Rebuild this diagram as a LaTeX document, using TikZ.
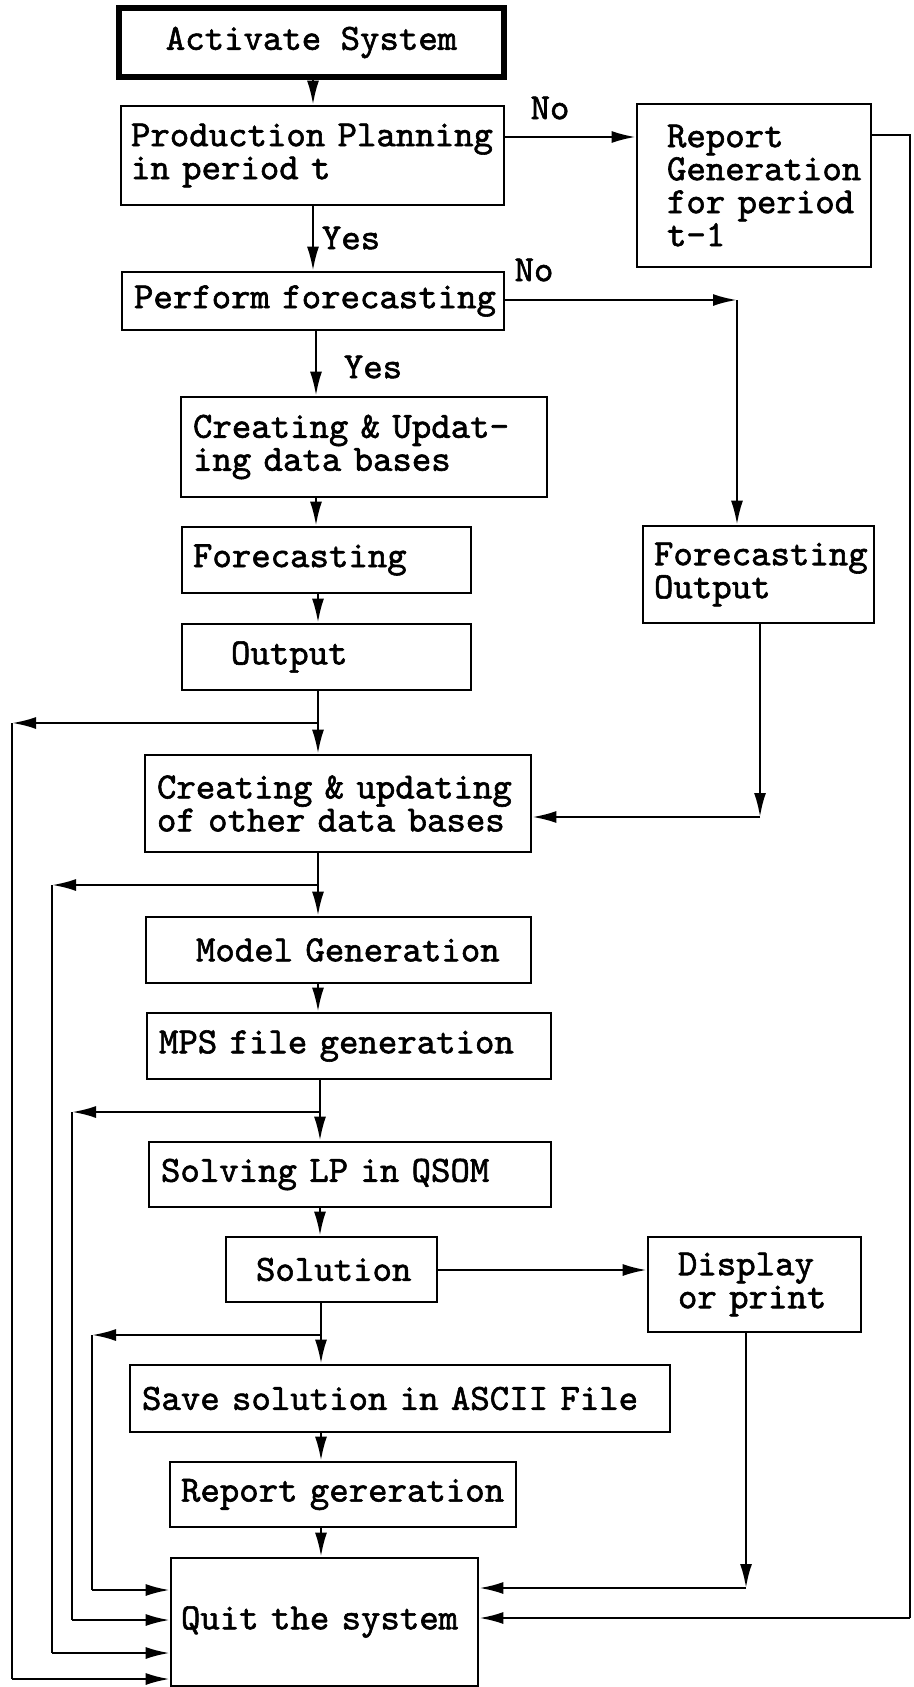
\documentclass[tikz,border=0pt]{standalone}
\usepackage{fontspec}
\usetikzlibrary{arrows.meta}
\newfontfamily\dmfont{lmmono10-regular.otf}[FakeBold=1.6]
\newcommand\fnt{\dmfont\fontsize{18.5}{16.5}\selectfont}
\begin{document}
\begin{tikzpicture}[x=0.5pt,y=-0.5pt,
  bx/.style={draw, line width=1.3pt, inner sep=0pt, align=left, font=\fnt},
  ln/.style={line width=1.2pt},
  arr/.style={line width=1.2pt, -{Latex[length=12pt,width=6pt]}},
  lbl/.style={font=\fnt, inner sep=0pt}]
\useasboundingbox (0,0) rectangle (914,1687);
% boxes
\node[bx, line width=2.6pt, minimum width=192.5pt, minimum height=34.5pt, align=center] (act) at (311.5,42.5) {Activate System};
\node[bx, minimum width=191.5pt, minimum height=49.5pt, text width=181.5pt] (pp) at (312.5,155.5) {\mbox{Production Planning}\\\mbox{in period t}};
\node[bx, minimum width=117pt, minimum height=81.5pt, text width=87pt] (rg) at (754,185.5) {\mbox{Report}\\\mbox{Generation}\\\mbox{for period}\\\mbox{t-1}};
\node[bx, minimum width=191pt, minimum height=29pt, text width=179pt] (pf) at (313,301) {\mbox{Perform forecasting}};
\node[bx, minimum width=183pt, minimum height=50pt, text width=171pt] (cu) at (364,447) {\mbox{Creating \& Updat-}\\\mbox{ing data bases}};
\node[bx, minimum width=144.5pt, minimum height=33pt, text width=133.5pt] (fc) at (326.5,560) {\mbox{Forecasting}};
\node[bx, minimum width=115.5pt, minimum height=48.5pt, text width=104.5pt] (fo) at (758.5,574.5) {\mbox{Forecasting}\\\mbox{Output}};
\node[bx, minimum width=144.5pt, minimum height=33pt, text width=95.5pt] (out) at (326.5,657) {\mbox{Output}};
\node[bx, minimum width=193pt, minimum height=48.5pt, text width=181pt] (co) at (338,803.5) {\mbox{Creating \& updating}\\\mbox{of other data bases}};
\node[bx, minimum width=192.5pt, minimum height=33pt, text width=142.5pt] (mg) at (338.5,950) {\mbox{Model Generation}};
\node[bx, minimum width=202pt, minimum height=33pt, text width=190pt] (mps) at (349,1046) {\mbox{MPS file generation}};
\node[bx, minimum width=201pt, minimum height=32.5pt, text width=189pt] (slv) at (350,1174.5) {\mbox{Solving LP in QSOM}};
\node[bx, minimum width=105.5pt, minimum height=32.5pt, text width=75.5pt] (sol) at (331.5,1269.5) {\mbox{Solution}};
\node[bx, minimum width=106.5pt, minimum height=47.5pt, text width=76.5pt] (dp) at (754.5,1284.5) {\mbox{Display}\\\mbox{or print}};
\node[bx, minimum width=270pt, minimum height=33.5pt, text width=258pt] (sv) at (400,1398.5) {\mbox{Save solution in ASCII File}};
\node[bx, minimum width=173pt, minimum height=32.5pt, text width=162pt] (rp) at (343,1494.5) {\mbox{Report gereration}};
\node[bx, minimum width=153.5pt, minimum height=64pt, text width=143.5pt] (qt) at (324.5,1622) {\mbox{Quit the system}};
% labels
\node[lbl] (no1) at (550,108) {No};
\node[lbl] (no2) at (534,270) {No};
\node[lbl] (yes1) at (351,238) {Yes};
\node[lbl] (yes2) at (373,367) {Yes};
% helper coordinates
\coordinate (T1) at (313,0);
\coordinate (T2) at (316,0);
\coordinate (T3) at (318,0);
\coordinate (T4) at (320,0);
\coordinate (T5) at (321,0);
\coordinate (J1) at (318,723);
\coordinate (J2) at (318,885);
\coordinate (J3) at (320,1112);
\coordinate (J4) at (321,1335);
\coordinate (A1) at (12,723);  \coordinate (B1) at (12,1679);
\coordinate (A2) at (52,885);  \coordinate (B2) at (52,1653);
\coordinate (A3) at (72,1112); \coordinate (B3) at (72,1620);
\coordinate (A4) at (92,1335); \coordinate (B4) at (92,1590);
\coordinate (P1) at (0,137);
\coordinate (RG1) at (910,135);
\coordinate (RG2) at (910,1618);
\coordinate (K1) at (737,300);
\coordinate (K2) at (760,817);
\coordinate (S1) at (0,1270);
\coordinate (K3) at (746,1588);
% main trunk
\draw[arr] (act.south -| T1) -- (pp.north -| T1);
\draw[arr] (pp.south -| T1) -- (pf.north -| T1);
\draw[arr] (pf.south -| T2) -- (cu.north -| T2);
\draw[arr] (cu.south -| T2) -- (fc.north -| T2);
\draw[arr] (fc.south -| T3) -- (out.north -| T3);
\draw[arr] (out.south -| T3) -- (co.north -| T3);
\draw[arr] (co.south -| T3) -- (mg.north -| T3);
\draw[arr] (mg.south -| T3) -- (mps.north -| T3);
\draw[arr] (mps.south -| T4) -- (slv.north -| T4);
\draw[arr] (slv.south -| T4) -- (sol.north -| T4);
\draw[arr] (sol.south -| T5) -- (sv.north -| T5);
\draw[arr] (sv.south -| T5) -- (rp.north -| T5);
\draw[arr] (rp.south -| T5) -- (qt.north -| T5);
% left return loops
\draw[arr] (J1) -- (A1);
\draw[ln] (A1) -- (B1);
\draw[arr] (B1) -- (B1 -| qt.west);
\draw[arr] (J2) -- (A2);
\draw[ln] (A2) -- (B2);
\draw[arr] (B2) -- (B2 -| qt.west);
\draw[arr] (J3) -- (A3);
\draw[ln] (A3) -- (B3);
\draw[arr] (B3) -- (B3 -| qt.west);
\draw[arr] (J4) -- (A4);
\draw[ln] (A4) -- (B4);
\draw[arr] (B4) -- (B4 -| qt.west);
% right side
\draw[arr] (pp.east |- P1) -- (rg.west |- P1);
\draw[ln] (rg.east |- RG1) -- (RG1) -- (RG2);
\draw[arr] (RG2) -- (RG2 -| qt.east);
\draw[arr] (pf.east |- K1) -- (K1);
\draw[arr] (K1) -- (K1 |- fo.north);
\draw[arr] (fo.south -| K2) -- (K2);
\draw[arr] (K2) -- (K2 -| co.east);
\draw[arr] (sol.east |- S1) -- (dp.west |- S1);
\draw[arr] (dp.south -| K3) -- (K3);
\draw[arr] (K3) -- (K3 -| qt.east);
\end{tikzpicture}
\end{document}
